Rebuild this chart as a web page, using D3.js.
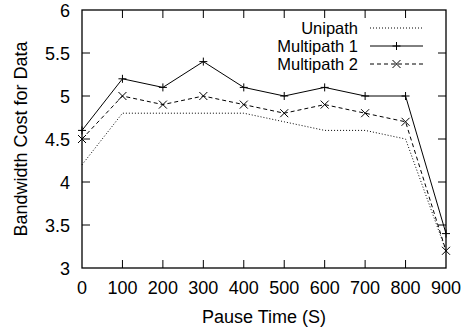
<!DOCTYPE html>
<html>
<head>
<meta charset="utf-8">
<script src="https://cdn.jsdelivr.net/npm/d3@7"></script>
<style>
  body { margin: 0; background: #fff; }
  svg text { font-family: "Liberation Sans", Arial, sans-serif; fill: #000; }
</style>
</head>
<body>
<div id="chart"></div>
<script>
// Data
const pauseTimes = [0, 100, 200, 300, 400, 500, 600, 700, 800, 900];
const unipath    = [4.2, 4.8, 4.8, 4.8, 4.8, 4.7, 4.6, 4.6, 4.5, 3.2];
const multipath1 = [4.6, 5.2, 5.1, 5.4, 5.1, 5.0, 5.1, 5.0, 5.0, 3.4];
const multipath2 = [4.5, 5.0, 4.9, 5.0, 4.9, 4.8, 4.9, 4.8, 4.7, 3.2];
const xTicks = [0, 100, 200, 300, 400, 500, 600, 700, 800, 900];
const yTicks = [3, 3.5, 4, 4.5, 5, 5.5, 6];

const series = [
    { name: "Unipath", values: unipath, dash: "1,2", marker: null },
    { name: "Multipath 1", values: multipath1, dash: null, marker: "plus" },
    { name: "Multipath 2", values: multipath2, dash: "4,3", marker: "cross" }
];

const width = 461, height = 328;
const margin = { top: 10, right: 15, bottom: 60, left: 82 };

const svg = d3.select('#chart')
    .append('svg')
    .attr('width', width)
    .attr('height', height);

const x = d3.scaleLinear().domain([0, 900]).range([margin.left, width - margin.right]);
const y = d3.scaleLinear().domain([3, 6]).range([height - margin.bottom, margin.top]);

const tickLen = 8;
const fontSize = 18;

// Ticks on all four sides, pointing inward (gnuplot style)
const axes = svg.append('g').attr('stroke', '#000').attr('stroke-width', 1);
xTicks.forEach(t => {
    if (t === 0 || t === 900) return;
    axes.append('line').attr('x1', x(t)).attr('x2', x(t))
        .attr('y1', y(3)).attr('y2', y(3) - tickLen);
    axes.append('line').attr('x1', x(t)).attr('x2', x(t))
        .attr('y1', y(6)).attr('y2', y(6) + tickLen);
});
yTicks.forEach(t => {
    if (t === 3 || t === 6) return;
    axes.append('line').attr('x1', x(0)).attr('x2', x(0) + tickLen)
        .attr('y1', y(t)).attr('y2', y(t));
    axes.append('line').attr('x1', x(900)).attr('x2', x(900) - tickLen)
        .attr('y1', y(t)).attr('y2', y(t));
});

// Tick labels
svg.append('g').selectAll('text')
    .data(xTicks)
    .enter()
    .append('text')
    .attr('x', d => x(d))
    .attr('y', y(3) + 26)
    .attr('text-anchor', 'middle')
    .style('font-size', fontSize + 'px')
    .text(d => d);

svg.append('g').selectAll('text')
    .data(yTicks)
    .enter()
    .append('text')
    .attr('x', x(0) - 12)
    .attr('y', d => y(d) + 6.5)
    .attr('text-anchor', 'end')
    .style('font-size', fontSize + 'px')
    .text(d => d);

// Axis titles
svg.append('text')
    .attr('x', (x(0) + x(900)) / 2)
    .attr('y', 323)
    .attr('text-anchor', 'middle')
    .style('font-size', fontSize + 'px')
    .text('Pause Time (S)');

svg.append('text')
    .attr('transform', `translate(26.5,${(y(3) + y(6)) / 2}) rotate(-90)`)
    .attr('text-anchor', 'middle')
    .style('font-size', fontSize + 'px')
    .text('Bandwidth Cost for Data');

// Lines
const line = d3.line()
    .x((d, i) => x(pauseTimes[i]))
    .y(d => y(d));

const markerSize = 4;
function drawMarker(g, type, cx, cy) {
    if (type === 'plus') {
        g.append('path')
            .attr('d', `M${cx - markerSize},${cy}H${cx + markerSize}M${cx},${cy - markerSize}V${cy + markerSize}`)
            .attr('stroke', '#000').attr('fill', 'none');
    } else if (type === 'cross') {
        g.append('path')
            .attr('d', `M${cx - markerSize},${cy - markerSize}L${cx + markerSize},${cy + markerSize}M${cx - markerSize},${cy + markerSize}L${cx + markerSize},${cy - markerSize}`)
            .attr('stroke', '#000').attr('fill', 'none');
    }
}

const plot = svg.append('g');
series.forEach(s => {
    plot.append('path')
        .datum(s.values)
        .attr('d', line)
        .attr('fill', 'none')
        .attr('stroke', '#000')
        .attr('stroke-width', 1)
        .attr('stroke-dasharray', s.dash);
    if (s.marker) {
        s.values.forEach((v, i) => drawMarker(plot, s.marker, x(pauseTimes[i]), y(v)));
    }
});

// Legend (slightly smaller type so the tight rows don't collide)
const legendFont = 16.5;
const legend = svg.append('g');
series.forEach((s, i) => {
    const ly = 28 + i * 18;
    legend.append('text')
        .attr('x', 358)
        .attr('y', ly + 6)
        .attr('text-anchor', 'end')
        .style('font-size', legendFont + 'px')
        .text(s.name);
    legend.append('line')
        .attr('x1', 370).attr('x2', 423)
        .attr('y1', ly).attr('y2', ly)
        .attr('stroke', '#000')
        .attr('stroke-dasharray', s.dash);
    if (s.marker) drawMarker(legend, s.marker, 396.5, ly);
});

// Border
svg.append('rect')
    .attr('x', x(0)).attr('y', y(6))
    .attr('width', x(900) - x(0)).attr('height', y(3) - y(6))
    .attr('fill', 'none')
    .attr('stroke', '#000')
    .attr('stroke-width', 1.3);
</script>
</body>
</html>
